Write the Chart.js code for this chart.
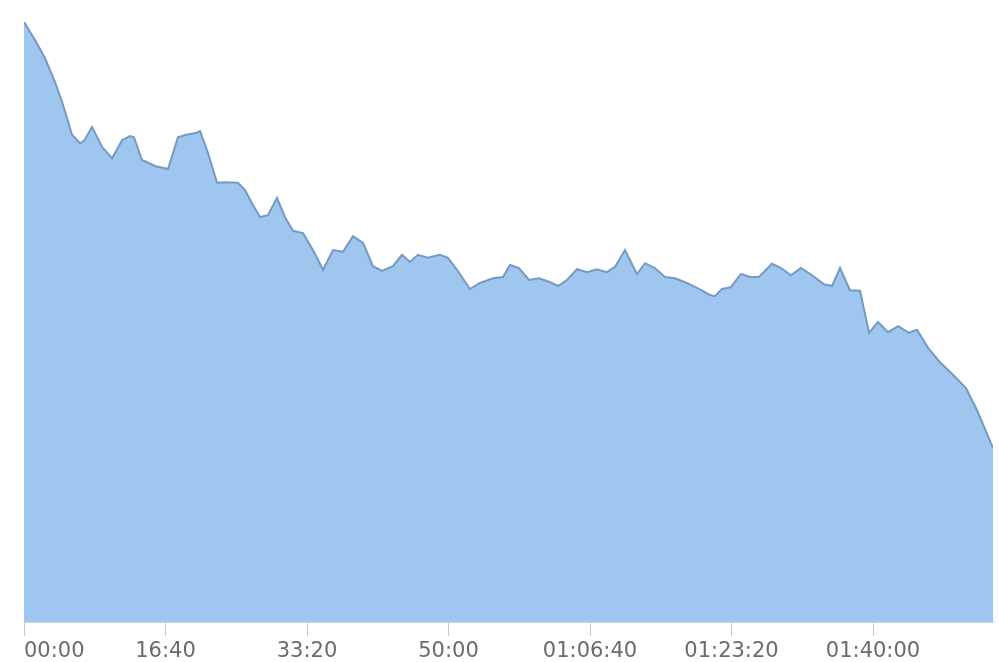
<!DOCTYPE html>
<html>
<head>
<meta charset="utf-8">
<title>Area chart</title>
<script src="https://cdn.jsdelivr.net/npm/chart.js@4/dist/chart.umd.min.js"></script>
<style>
    html, body { margin: 0; padding: 0; background: #fff; }
    #wrap { width: 999px; height: 662px; position: relative; }
</style>
</head>
<body>
<div id="wrap"><canvas id="areaChart"></canvas></div>
<script>
// elapsed time in seconds
var times = [
    0, 78, 148, 219, 269, 304, 339, 396, 424, 481,
    551, 622, 693, 749, 777, 834, 926, 1018, 1088, 1145,
    1215, 1244, 1300, 1364, 1420, 1512, 1562, 1611, 1668, 1724,
    1788, 1844, 1901, 1972, 2042, 2113, 2184, 2254, 2325, 2396,
    2466, 2530, 2608, 2671, 2728, 2784, 2855, 2940, 2996, 3060,
    3152, 3223, 3314, 3385, 3435, 3498, 3569, 3640, 3710, 3774,
    3837, 3908, 3979, 4049, 4120, 4177, 4247, 4332, 4389, 4459,
    4530, 4601, 4685, 4756, 4848, 4883, 4933, 4996, 5067, 5131,
    5194, 5286, 5350, 5420, 5491, 5569, 5654, 5710, 5767, 5837,
    5908, 5972, 6035, 6106, 6177, 6254, 6311, 6389, 6473, 6565,
    6657, 6735, 6848
];

// values (no y axis shown, so relative units)
var values = [
    100, 97, 94, 90, 86.7, 84, 81.2, 79.8, 80.2, 82.5,
    79.2, 77.3, 80.3, 81, 80.8, 77, 76, 75.5, 80.8, 81.2,
    81.5, 81.8, 78.2, 73.2, 73.3, 73.2, 72, 69.8, 67.5, 67.8,
    70.7, 67.5, 65.2, 64.8, 62, 58.7, 62, 61.7, 64.3, 63.2,
    59.3, 58.5, 59.3, 61.2, 60, 61.2, 60.7, 61.2, 60.7, 58.7,
    55.5, 56.5, 57.3, 57.5, 59.5, 59, 57, 57.3, 56.7, 56,
    57, 58.8, 58.3, 58.8, 58.3, 59.2, 62, 58, 59.8, 59,
    57.5, 57.3, 56.5, 55.7, 54.5, 54.3, 55.5, 55.8, 58, 57.5,
    57.5, 59.7, 59, 57.8, 59, 57.8, 56.3, 56, 59, 55.3,
    55.2, 48.2, 50, 48.3, 49.3, 48.2, 48.7, 45.7, 43.3, 41.2,
    39, 35.3, 29
];

// labelled ticks on the time axis (seconds)
var tickValues = [0, 1000, 2000, 3000, 4000, 5000, 6000];
var timeMax = times[times.length - 1];

// seconds -> mm:ss or hh:mm:ss
function formatTime(sec) {
    var h = Math.floor(sec / 3600);
    var m = Math.floor((sec % 3600) / 60);
    var s = Math.round(sec % 60);
    var pad = function(n) { return (n < 10 ? '0' : '') + n; };
    if (h > 0) {
        return pad(h) + ':' + pad(m) + ':' + pad(s);
    }
    return pad(m) + ':' + pad(s);
}

function isLabelled(v) {
    return tickValues.indexOf(v) !== -1;
}

function buildPoints() {
    var pts = [];
    for (var i = 0; i < times.length; i++) {
        pts.push({ x: times[i], y: values[i] });
    }
    return pts;
}

function drawGraph() {
    var ctx = document.getElementById('areaChart').getContext('2d');
    new Chart(ctx, {
        type: 'line',
        data: {
            datasets: [{
                data: buildPoints(),
                fill: 'origin',
                backgroundColor: 'rgb(158, 198, 239)',
                borderColor: 'rgb(116, 154, 196)',
                borderWidth: 2,
                pointRadius: 0,
                tension: 0
            }]
        },
        options: {
            responsive: true,
            maintainAspectRatio: false,
            animation: false,
            // labels sit low, close to the bottom edge
            layout: { padding: { left: 24, right: 6, top: 22, bottom: -6 } },
            plugins: {
                legend: { display: false },
                tooltip: { enabled: false }
            },
            scales: {
                x: {
                    type: 'linear',
                    min: 0,
                    max: timeMax,
                    // own tick list, the automatic one splits the range evenly
                    afterBuildTicks: function(scale) {
                        var t = tickValues.map(function(v) { return { value: v }; });
                        t.push({ value: timeMax });
                        scale.ticks = t;
                    },
                    border: { display: true, color: '#cfd6de', width: 1 },
                    grid: {
                        drawOnChartArea: false,
                        drawTicks: true,
                        tickLength: 14,
                        tickColor: function(c) {
                            return c.tick && isLabelled(c.tick.value) ? '#c8c8c8' : 'rgba(0,0,0,0)';
                        }
                    },
                    ticks: {
                        align: 'inner',
                        maxRotation: 0,
                        autoSkip: false,
                        padding: 3.4,
                        color: '#6b6b6b',
                        font: { family: 'DejaVu Sans', size: 21 },
                        callback: function(v) {
                            return isLabelled(v) ? formatTime(v) : '';
                        }
                    }
                },
                y: {
                    display: false,
                    min: 0,
                    max: 100
                }
            }
        }
    });
}

drawGraph();
</script>
</body>
</html>
